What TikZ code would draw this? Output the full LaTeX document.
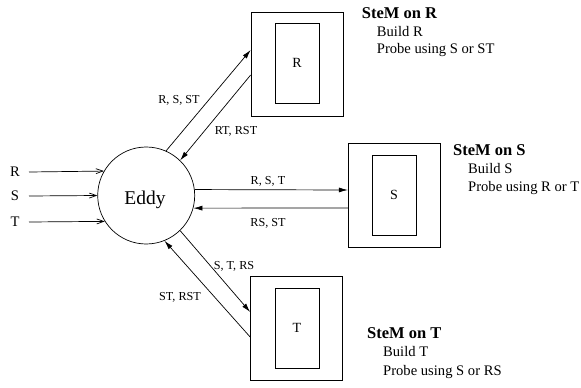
\documentclass[tikz,border=0pt]{standalone}
\usepackage{fontspec}
\setmainfont{Liberation Serif}
\usetikzlibrary{arrows.meta,calc}
\begin{document}
\begin{tikzpicture}[x=1pt,y=-1pt,
  ln/.style={line width=0.7pt},
  conn/.style={ln,-{Latex[length=9pt,width=5pt]}},
  inarrow/.style={ln,-{Straight Barb[length=7pt,width=5pt]}},
  outerbox/.style={draw,ln,minimum width=92pt,minimum height=104pt,inner sep=0pt},
  innerbox/.style={draw,ln,minimum width=44pt,minimum height=80pt,inner sep=0pt,font=\fontsize{14}{16}\selectfont},
  lbl/.style={font=\fontsize{12.2}{14}\selectfont,inner sep=0pt},
  ttl/.style={font=\fontsize{16.5}{19}\selectfont\bfseries,inner sep=0pt,anchor=base west},
  body/.style={font=\fontsize{14.6}{17}\selectfont,inner sep=0pt,anchor=base west},
  inl/.style={font=\fontsize{14.6}{17}\selectfont,inner sep=0pt}]
\useasboundingbox (0,0) rectangle (581,388);

% Eddy
\node[draw,ln,circle,minimum size=97pt,inner sep=0pt] (eddy) at (146.2,195.5) {};
\node[font=\fontsize{19.5}{22}\selectfont,inner sep=0pt,anchor=base] (eddyt) at (145,204) {Eddy};

% inputs
\node[inl] (inR) at (15,172) {R};
\node[inl] (inS) at (15,196) {S};
\node[inl] (inT) at (15,222) {T};
\coordinate (iR) at (29,172);
\coordinate (iS) at (29,196);
\coordinate (iT) at (29,222);
\draw[inarrow] (iR) -- (eddy.150);
\draw[inarrow] (iS) -- (eddy.180);
\draw[inarrow] (iT) -- (eddy.212);

% SteM boxes
\node[outerbox] (rbox) at (297,64) {};
\node[innerbox] (rin) at (297,63) {R};
\node[outerbox] (sbox) at (394.2,195) {};
\node[innerbox] (sin) at (394,195) {S};
\node[outerbox] (tbox) at (296.5,328.7) {};
\node[innerbox] (tin) at (297,328) {T};

% connectors R
\draw[conn] (eddy.66) -- ($(rbox.west)+(0,-14)$);
\draw[conn] ($(rbox.west)+(0,11)$) -- (eddy.46);
% connectors S
\draw[conn] (eddy.7) -- ($(sbox.west)+(0,-5)$);
\draw[conn] ($(sbox.west)+(0,13)$) -- (eddy.-15);
% connectors T
\draw[conn] (eddy.-46) -- ($(tbox.west)+(0,-16.7)$);
\draw[conn] ($(tbox.west)+(0,8.3)$) -- (eddy.-68);

% connector labels
\node[lbl] (l1) at (179,100) {R, S, ST};
\node[lbl] (l2) at (236,131) {RT, RST};
\node[lbl] (l3) at (268,181) {R, S, T};
\node[lbl] (l4) at (268,223) {RS, ST};
\node[lbl] (l5) at (234,266) {S, T, RS};
\node[lbl] (l6) at (180,297) {ST, RST};

% texts
\node[ttl] (tR) at (361.7,19) {SteM on R};
\node[body] (bR) at (376.7,36) {Build R};
\node[body] (pR) at (376.7,53.3) {Probe using S or ST};

\node[ttl] (tS) at (453,155) {SteM on S};
\node[body] (bS) at (468,173) {Build S};
\node[body] (pS) at (468,191) {Probe using R or T};

\node[ttl] (tT) at (367,338.3) {SteM on T};
\node[body] (bT) at (383,356.7) {Build T};
\node[body] (pT) at (383,375) {Probe using S or RS};
\end{tikzpicture}
\end{document}
